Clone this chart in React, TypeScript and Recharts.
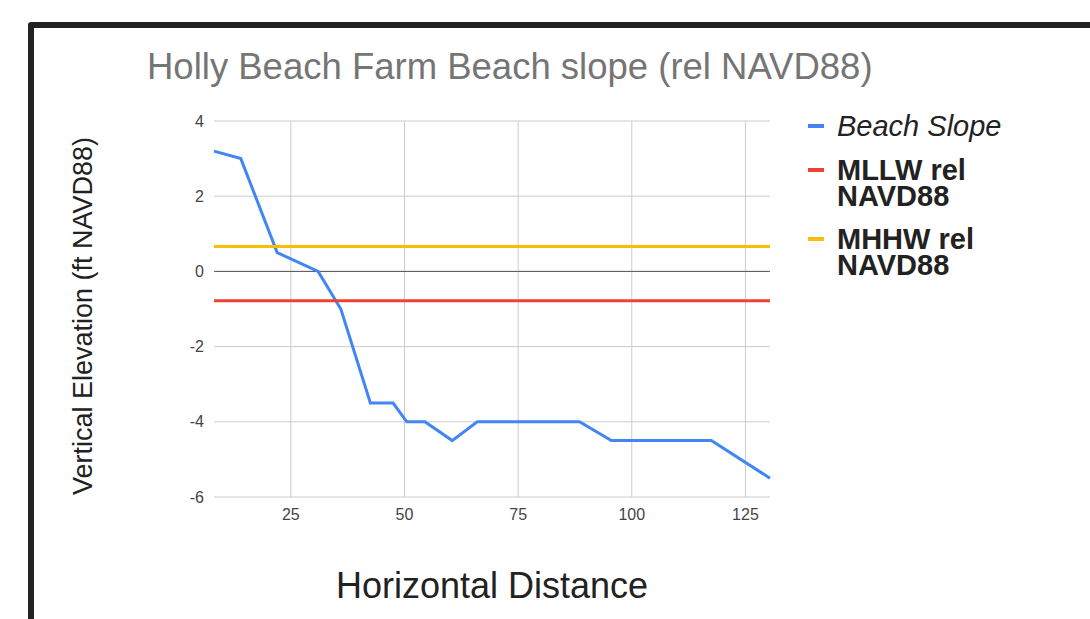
import { CartesianGrid, Legend, Line, LineChart, ReferenceLine, XAxis, YAxis } from "recharts";

const distance = [8.1, 14, 22, 31, 36, 42.5, 47.5, 50.5, 54.5, 60.5, 66, 88.5, 95.5, 117.5, 130.4];
const beachSlope = [3.2, 3, 0.5, 0, -1, -3.5, -3.5, -4, -4, -4.5, -4, -4, -4.5, -4.5, -5.5];
const mllw = [-0.78, -0.78, -0.78, -0.78, -0.78, -0.78, -0.78, -0.78, -0.78, -0.78, -0.78, -0.78, -0.78, -0.78, -0.78];
const mhhw = [0.66, 0.66, 0.66, 0.66, 0.66, 0.66, 0.66, 0.66, 0.66, 0.66, 0.66, 0.66, 0.66, 0.66, 0.66];
const xTicks = [25, 50, 75, 100, 125];
const yTicks = [-6, -4, -2, 0, 2, 4];

const SERIES = [
  { key: "slope", name: "Beach Slope", color: "#4285F4", italic: true },
  { key: "mllw", name: "MLLW rel NAVD88", color: "#EA4335", italic: false },
  { key: "mhhw", name: "MHHW rel NAVD88", color: "#FBBC04", italic: false },
];

const FONT = "Arial, 'Liberation Sans', sans-serif";
const TICK = { fontSize: 16, fill: "#444", fontFamily: FONT };

const rows = distance.map((x, i) => ({ x, slope: beachSlope[i], mllw: mllw[i], mhhw: mhhw[i] }));

function SideLegend() {
  return (
    <div style={{ position: "absolute", left: 808, top: 113, width: 260, fontFamily: FONT, fontSize: 29, lineHeight: "26px", color: "#222" }}>
      {SERIES.map((s) => (
        <div key={s.key} style={{ display: "flex", alignItems: "flex-start", marginBottom: 17.5 }}>
          <div style={{ width: 16, height: 4, marginTop: 11, background: s.color, flexShrink: 0 }} />
          <div style={{ marginLeft: 13, width: 200, fontStyle: s.italic ? "italic" : "normal", fontWeight: s.italic ? 400 : 700 }}>
            {s.name}
          </div>
        </div>
      ))}
    </div>
  );
}

export default function App() {
  return (
    <div style={{ position: "absolute", left: 0, top: 0, width: 1090, height: 619, overflow: "hidden", background: "#fff" }}>
      <div style={{ position: "absolute", left: 28, top: 22, width: 1200, height: 800, border: "6px solid #222", borderRadius: 3 }} />
      <LineChart width={1090} height={619} data={rows} margin={{ top: 121, right: 320, bottom: 0, left: 0 }}>
        <CartesianGrid stroke="#ccc" vertical={false} />
        <XAxis
          dataKey="x"
          type="number"
          domain={["dataMin", "dataMax"]}
          ticks={xTicks}
          height={122}
          axisLine={false}
          tickLine={false}
          tickSize={0}
          tickMargin={12}
          tick={TICK}
        />
        <YAxis
          type="number"
          domain={[-6, 4]}
          ticks={yTicks}
          width={214}
          axisLine={false}
          tickLine={false}
          tickSize={0}
          tickMargin={10}
          tick={TICK}
        />
        {xTicks.map((t) => (
          <ReferenceLine key={t} x={t} stroke="#ccc" strokeWidth={1} />
        ))}
        <ReferenceLine y={0} stroke="#555" strokeWidth={1} />
        {SERIES.map((s) => (
          <Line
            key={s.key}
            type="linear"
            dataKey={s.key}
            name={s.name}
            stroke={s.color}
            strokeWidth={3}
            dot={false}
            isAnimationActive={false}
          />
        ))}
        <Legend content={() => null} />
      </LineChart>
      <SideLegend />
      <svg width={1090} height={619} style={{ position: "absolute", left: 0, top: 0, pointerEvents: "none" }}>
        <text x={147} y={79} fontFamily={FONT} fontSize={36.5} fill="#757575">
          Holly Beach Farm Beach slope (rel NAVD88)
        </text>
        <text x={492} y={598} textAnchor="middle" fontFamily={FONT} fontSize={36} fill="#222">
          Horizontal Distance
        </text>
        <text transform="translate(92, 316) rotate(-90)" textAnchor="middle" fontFamily={FONT} fontSize={27} fill="#222">
          Vertical Elevation (ft NAVD88)
        </text>
      </svg>
    </div>
  );
}
